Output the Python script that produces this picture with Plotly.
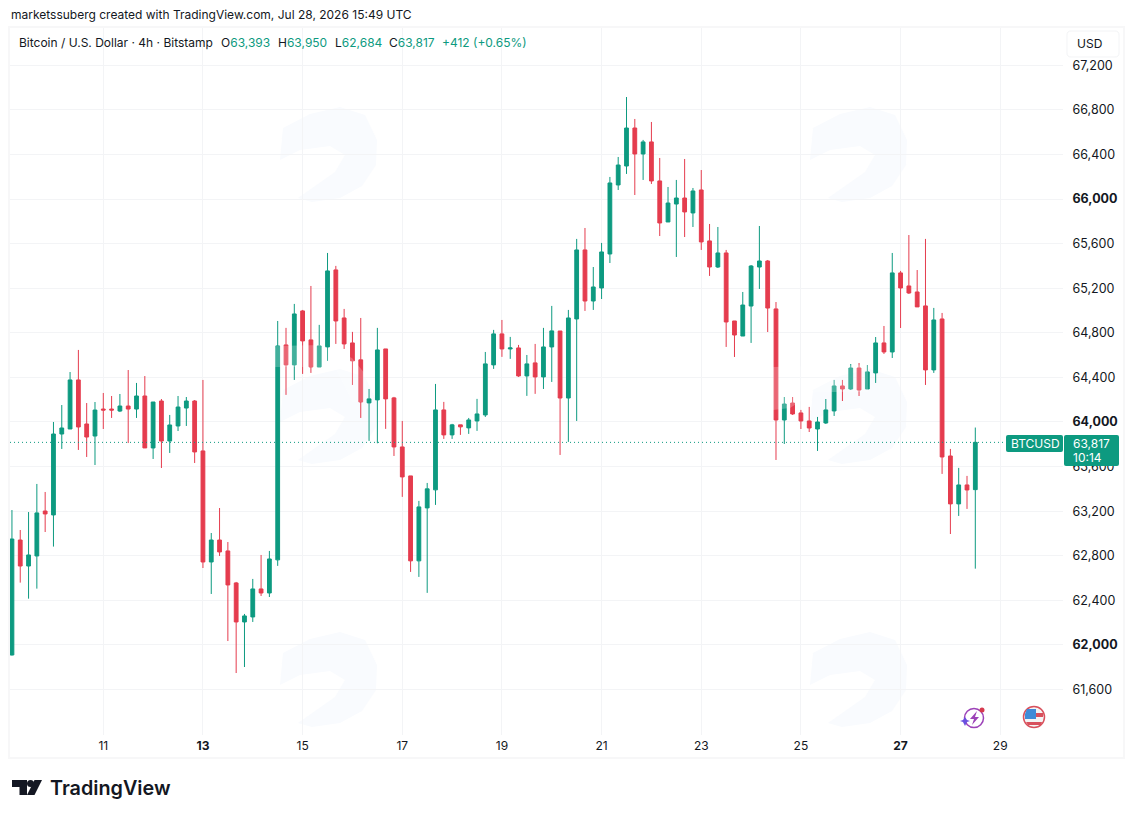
import pandas as pd
import plotly.graph_objects as go

start = "2026-07-09 04:00"

opens = [
    61910, 62941, 62708, 62798, 63201, 63166, 63892, 63937, 64377, 63982, 63874, 64116, 64116,
    64098, 64143, 64116, 64233, 63767, 64188, 63829, 63964, 64125, 64188, 63740, 62744, 62941,
    62843, 62556, 62206, 62251, 62502, 62466, 62763, 64691, 64512, 64996, 64736, 64494, 64673,
    65364, 64933, 64709, 64557, 64171, 64198, 64655, 64216, 63776, 63516, 62754, 63229, 63391,
    64108, 63884, 63974, 63947, 64009, 64063, 64512, 64790, 64655, 64664, 64413, 64530, 64404,
    64673, 64816, 64215, 64924, 65543, 65085, 65202, 65507, 66126, 66296, 66637, 66404, 66512,
    66162, 65794, 65955, 66009, 65875, 66081, 65624, 65390, 65516, 64906, 64771, 65040, 65390,
    65444, 65014, 64018, 64170, 64081, 64009, 63937, 63991, 64099, 64323, 64296, 64484, 64296,
    64440, 64709, 64628, 65337, 65220, 65166, 65041, 64467, 64924, 63695, 63265, 63435, 63393,
]
highs = [
    63210, 63031, 63192, 63444, 63372, 64000, 64152, 64448, 64646, 64170, 64179, 64260, 64233,
    64251, 64466, 64350, 64412, 64179, 64206, 64063, 64233, 64224, 64197, 64377, 63004, 63228,
    62923, 62565, 62278, 62592, 62807, 62843, 64906, 64844, 65059, 65005, 65220, 64871, 65516,
    65400, 65014, 64808, 64933, 64296, 64844, 64655, 64225, 64009, 63516, 63292, 63453, 64341,
    64180, 63983, 63974, 64036, 64207, 64628, 64826, 64915, 64763, 64691, 64601, 64700, 64844,
    65041, 64816, 65005, 65642, 65740, 65390, 65606, 66198, 66377, 66915, 66718, 66530, 66691,
    66368, 66108, 66171, 66359, 66099, 66260, 65776, 65749, 65543, 64906, 65166, 65408, 65758,
    65453, 65076, 64224, 64224, 64108, 64135, 64045, 64206, 64377, 64377, 64520, 64529, 64511,
    64762, 64861, 65516, 65355, 65677, 65363, 65642, 65023, 64978, 63758, 63588, 63516, 63950,
]
lows = [
    61905, 62559, 62415, 62505, 63013, 62882, 63758, 63937, 63749, 63686, 63614, 63937, 64036,
    64089, 63811, 64036, 63767, 63668, 63587, 63722, 63919, 63964, 63632, 62690, 62457, 62798,
    62035, 61748, 61802, 62206, 62439, 62430, 62709, 64243, 64377, 64431, 64440, 64494, 64548,
    64700, 64655, 64332, 64036, 63830, 63809, 63938, 63695, 63328, 62655, 62610, 62467, 63256,
    63848, 63848, 63884, 63893, 63920, 64045, 64476, 64584, 64566, 64404, 64234, 64252, 64296,
    64359, 63704, 63821, 64009, 64996, 65005, 65103, 65426, 66081, 66225, 66036, 66171, 66135,
    65668, 65794, 65480, 65659, 65749, 65543, 65310, 65381, 64673, 64583, 64771, 64709, 65193,
    64807, 63659, 63803, 64063, 63937, 63910, 63740, 63982, 64054, 64188, 64287, 64233, 64296,
    64350, 64610, 64574, 64843, 65148, 65032, 64332, 64440, 63534, 62995, 63157, 63220, 62684,
]
closes = [
    62950, 62708, 62807, 63184, 63175, 63892, 63946, 64377, 63955, 63865, 64107, 64107, 64107,
    64143, 64116, 64233, 63767, 64179, 63829, 63973, 64134, 64188, 63731, 62744, 62941, 62834,
    62538, 62206, 62260, 62502, 62466, 62771, 64682, 64512, 64969, 64727, 64494, 64682, 65355,
    64906, 64700, 64548, 64180, 64207, 64646, 64207, 63776, 63507, 62754, 63238, 63400, 64108,
    63884, 63974, 63956, 64018, 64072, 64521, 64790, 64655, 64664, 64413, 64521, 64404, 64673,
    64817, 64215, 64933, 65543, 65085, 65211, 65525, 66144, 66305, 66637, 66404, 66512, 66162,
    65785, 65964, 66009, 65884, 66072, 65615, 65390, 65516, 64897, 64780, 65049, 65399, 65444,
    65022, 64018, 64161, 64072, 64009, 63946, 64000, 64108, 64323, 64296, 64484, 64287, 64449,
    64709, 64628, 65337, 65202, 65157, 65032, 64467, 64915, 63686, 63265, 63435, 63390, 63817,
]

price_ticks = [61600, 62000, 62400, 62800, 63200, 63600, 64000, 64400, 64800,
               65200, 65600, 66000, 66400, 66800, 67200]
bold_prices = [62000, 64000, 66000]
day_ticks = ["2026-07-11", "2026-07-13", "2026-07-15", "2026-07-17", "2026-07-19",
             "2026-07-21", "2026-07-23", "2026-07-25", "2026-07-27", "2026-07-29"]
day_labels = ["11", "<b>13</b>", "15", "17", "19", "21", "23", "25", "<b>27</b>", "29"]

last_price = 63817

GREEN = "#0d9a80"
RED = "#e53c4e"
TEXT = "#131722"
GRID = "#f3f4f6"
FONT = "Inter"
# the page body keeps its 8px margin, so the figure is 8px smaller and everything shifted
PAGE = 8
W, H = 1133 - PAGE, 818 - PAGE


def px(x):
    return (x - PAGE) / W


def py(y):
    return 1 - (y - PAGE) / H


def pth(points):
    # polygon from pixel points, in paper fractions
    parts = ["%s%.5f,%.5f" % ("M" if i == 0 else "L", px(x), py(y)) for i, (x, y) in enumerate(points)]
    return " ".join(parts) + " Z"


def rrect(x0, y0, x1, y1, r=2):
    return ("M%.5f,%.5f L%.5f,%.5f Q%.5f,%.5f %.5f,%.5f L%.5f,%.5f Q%.5f,%.5f %.5f,%.5f "
            "L%.5f,%.5f Q%.5f,%.5f %.5f,%.5f L%.5f,%.5f Q%.5f,%.5f %.5f,%.5f Z") % (
        px(x0 + r), py(y0), px(x1 - r), py(y0), px(x1), py(y0), px(x1), py(y0 + r),
        px(x1), py(y1 - r), px(x1), py(y1), px(x1 - r), py(y1),
        px(x0 + r), py(y1), px(x0), py(y1), px(x0), py(y1 - r),
        px(x0), py(y0 + r), px(x0), py(y0), px(x0 + r), py(y0))


def circle(cx, cy, r, **kw):
    return dict(type="circle", xref="paper", yref="paper", x0=px(cx - r), x1=px(cx + r),
                y0=py(cy + r), y1=py(cy - r), **kw)


def poly(points, color, layer="above", opacity=1):
    return dict(type="path", xref="paper", yref="paper", path=pth(points), fillcolor=color,
                line_width=0, layer=layer, opacity=opacity)


def label(x, y, text, color=TEXT, size=12, xanchor="left", weight=None):
    return dict(x=px(x), y=py(y), xref="paper", yref="paper", text=text, showarrow=False,
                xanchor=xanchor, yanchor="middle", align="left",
                font=dict(family=FONT, size=size, color=color, weight=weight))


dates = pd.date_range(start, periods=len(opens), freq="4h")

candles = go.Candlestick(
    x=dates, open=opens, high=highs, low=lows, close=closes,
    increasing=dict(line=dict(color=GREEN, width=1), fillcolor=GREEN),
    decreasing=dict(line=dict(color=RED, width=1), fillcolor=RED),
    whiskerwidth=0,
    hoverinfo="skip",
)

shapes = []

# frame round the pane
shapes.append(dict(type="rect", xref="paper", yref="paper", x0=px(9), x1=px(1124), y0=py(758), y1=py(27),
                   line=dict(color="#f7f7f8", width=2), layer="below"))

# faint watermark blobs, row by row
for ox, oy in [(0, 0), (530, 0), (0, 262), (530, 262), (0, 525), (530, 525)]:
    blob = [(283, 128), (310, 114), (340, 107), (365, 115), (377, 140), (376, 165), (362, 186),
            (340, 198), (312, 202), (298, 198), (335, 172), (345, 155), (330, 146), (300, 150), (280, 160)]
    shapes.append(poly([(x + ox, y + oy) for x, y in blob], "#f9fbfe", layer="below"))

# the watermark also washes out the candles where it crosses them
shapes.append(poly([(275, 346), (322, 345), (352, 358), (366, 375), (366, 402), (352, 402),
                    (335, 367), (275, 367)], "#ffffff", opacity=0.22))
shapes.append(poly([(773, 367), (868, 365), (868, 392), (815, 392), (790, 408), (773, 410)],
                   "#ffffff", opacity=0.22))

# last price line
shapes.append(dict(type="line", xref="paper", yref="y", x0=px(10), x1=px(1005), y0=last_price, y1=last_price,
                   line=dict(color=GREEN, width=1, dash="1px 3px"), layer="above"))

# price tags
shapes.append(dict(type="path", xref="paper", yref="paper", path=rrect(1006, 435, 1063, 452),
                   fillcolor=GREEN, line_width=0))
shapes.append(dict(type="path", xref="paper", yref="paper", path=rrect(1064, 435, 1119, 466),
                   fillcolor=GREEN, line_width=0))

# USD box
shapes.append(dict(type="path", xref="paper", yref="paper", path=rrect(1067, 31, 1119, 57, 4),
                   fillcolor="#ffffff", line=dict(color="#f3f4f6", width=1)))

# TradingView mark
shapes.append(poly([(12, 780), (27, 780), (27, 795), (19.5, 795), (19.5, 787), (12, 787)], "#131722"))
shapes.append(circle(30.5, 783.5, 3.5, fillcolor="#131722", line_width=0))
shapes.append(poly([(42, 780), (34.5, 795), (27, 795), (34.5, 780)], "#131722"))

# events icon: ring, bolt, star and dot
shapes.append(circle(974, 718, 9.5, line=dict(color="#9c42b8", width=1.5), fillcolor="rgba(0,0,0,0)"))
shapes.append(poly([(977, 711), (970, 719), (974, 719), (972, 725), (979, 717), (975, 717)], "#9c42b8"))
shapes.append(poly([(965, 717), (963, 720), (960, 721), (963, 722), (965, 726), (967, 722), (970, 721),
                    (967, 720)], "#6a4fe0"))
shapes.append(circle(982, 710, 2.5, fillcolor="#d63a4e", line_width=0))

# flag icon
shapes.append(circle(1034, 717, 10.5, line=dict(color="#d8505c", width=1.5), fillcolor="#f4f4f4"))
shapes.append(poly([(1027, 709), (1036, 709), (1036, 719), (1025, 719), (1025, 714)], "#3f8bd8"))
shapes.append(poly([(1036, 713), (1043, 713), (1043, 717), (1036, 717)], "#d8505c"))
shapes.append(poly([(1026, 722), (1042, 722), (1041, 725), (1028, 725)], "#d8505c"))

annotations = [
    label(9, 15, "marketssuberg created with TradingView.com, Jul 28, 2026 15:49 UTC"),
    label(17, 43, "Bitcoin / U.S. Dollar · 4h · Bitstamp"),
    label(219, 43, "O<span style='color:%s'>63,393</span>" % GREEN),
    label(276, 43, "H<span style='color:%s'>63,950</span>" % GREEN),
    label(333, 43, "L<span style='color:%s'>62,684</span>" % GREEN),
    label(387, 43, "C<span style='color:%s'>63,817</span>" % GREEN),
    label(440, 43, "+412 (+0.65%)", color=GREEN),
    label(1075, 44, "USD"),
    label(1009, 443.5, "BTCUSD", color="#ffffff"),
    label(1071, 443, "63,817", color="#ffffff"),
    label(1071, 457, "10:14", color="#ffffff"),
    label(48, 788, "TradingView", size=19.8, weight=600),
]

fig = go.Figure(data=[candles])
fig.update_layout(
    width=W, height=H,
    margin=dict(l=0, r=0, t=0, b=0),
    paper_bgcolor="#ffffff",
    plot_bgcolor="rgba(0,0,0,0)",
    showlegend=False,
    boxgap=0.35,
    shapes=shapes,
    annotations=annotations,
    font=dict(family=FONT, size=12, color=TEXT),
)
fig.update_xaxes(
    domain=[px(10), px(1063)],
    range=["2026-07-09 03:04", "2026-07-30 06:14"],
    rangeslider_visible=False,
    tickvals=day_ticks, ticktext=day_labels,
    showgrid=True, gridcolor=GRID, gridwidth=1,
    zeroline=False, showline=False,
    ticks="", ticklabelstandoff=2,
    tickfont=dict(family=FONT, size=12, color=TEXT),
)
fig.update_yaxes(
    domain=[py(735), py(28)],
    range=[61192, 67534],
    side="right",
    tickvals=price_ticks,
    ticktext=["<b>{:,}</b>".format(p) if p in bold_prices else "{:,}".format(p) for p in price_ticks],
    showgrid=True, gridcolor=GRID, gridwidth=1,
    zeroline=False, showline=False,
    ticks="outside", ticklen=6, tickcolor="rgba(0,0,0,0)",
    tickfont=dict(family=FONT, size=12.5, color=TEXT),
)

fig.write_html("out.html")
